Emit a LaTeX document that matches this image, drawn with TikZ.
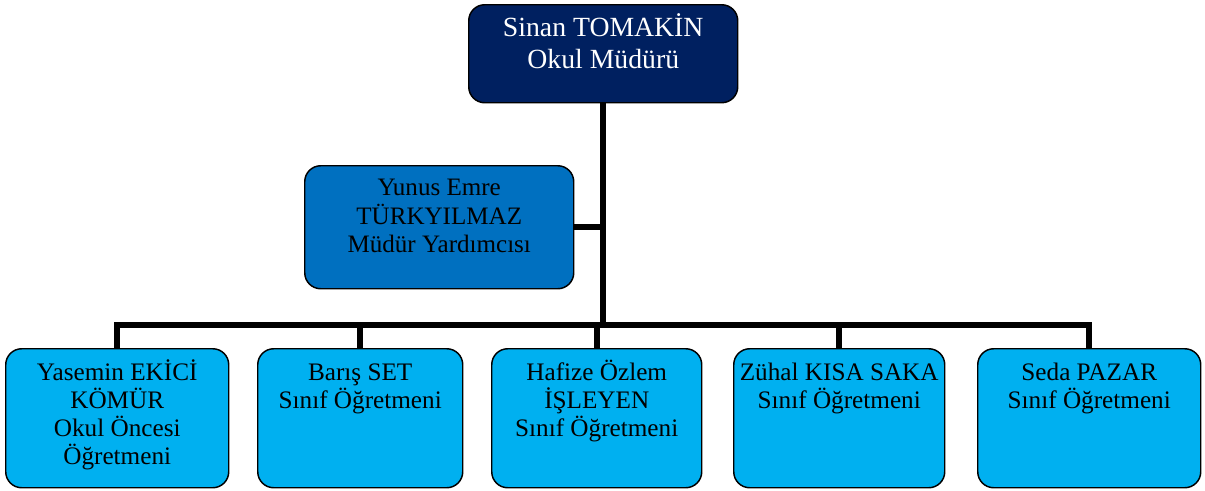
\documentclass[tikz,border=0pt]{standalone}
\usepackage{fontspec}
\setmainfont{Liberation Serif}
\definecolor{navy}{HTML}{002060}
\definecolor{midblue}{HTML}{0070C0}
\definecolor{lightblue}{HTML}{00B0F0}
\newcommand\orgtext[4]{\parbox[c][#2][t]{#1}{\centering\rule{0pt}{#3}#4\par}}
\begin{document}
\begin{tikzpicture}[x=0.75pt,y=-0.75pt,
  orgbox/.style={draw=black,line width=1.1pt,rounded corners=12pt,inner sep=0pt,anchor=north west},
  headbox/.style={orgbox,fill=navy,text=white,font=\fontsize{20.8}{24}\selectfont},
  deputybox/.style={orgbox,fill=midblue,text=black,font=\fontsize{18.8}{21.4}\selectfont},
  staffbox/.style={orgbox,fill=lightblue,text=black,font=\fontsize{18.9}{21}\selectfont},
  link/.style={line width=4.5pt}]
\useasboundingbox (0,0) rectangle (1205,490);
\node[headbox] (head) at (468,4) {\orgtext{201.75pt}{73.5pt}{24pt}{Sinan TOMAKİN\\Okul Müdürü}};
\node[deputybox] (deputy) at (304,165) {\orgtext{201.75pt}{92.25pt}{22.5pt}{Yunus Emre\\TÜRKYILMAZ\\Müdür Yardımcısı}};
\node[staffbox] (t1) at (5,348) {\orgtext{167.25pt}{104.25pt}{24pt}{Yasemin EKİCİ\\KÖMÜR\\Okul Öncesi\\Öğretmeni}};
\node[staffbox] (t2) at (257,348) {\orgtext{153.75pt}{104.25pt}{24pt}{Barış SET\\Sınıf Öğretmeni}};
\node[staffbox] (t3) at (491,348) {\orgtext{157.5pt}{104.25pt}{24pt}{Hafize Özlem\\İŞLEYEN\\Sınıf Öğretmeni}};
\node[staffbox] (t4) at (733,348) {\orgtext{158.25pt}{104.25pt}{24pt}{Zühal KISA SAKA\\Sınıf Öğretmeni}};
\node[staffbox] (t5) at (977,348) {\orgtext{167.25pt}{104.25pt}{24pt}{Seda PAZAR\\Sınıf Öğretmeni}};
\coordinate (hub) at (602,325);
\draw[link] (head.south) -- (head.south |- hub);
\draw[link] (deputy.east) -- (deputy.east -| head.south);
\draw[link] (t1.north) -- (t1.north |- hub) -- (t5.north |- hub) -- (t5.north);
\draw[link] (t2.north) -- (t2.north |- hub);
\draw[link] (t3.north) -- (t3.north |- hub);
\draw[link] (t4.north) -- (t4.north |- hub);
\end{tikzpicture}
\end{document}
